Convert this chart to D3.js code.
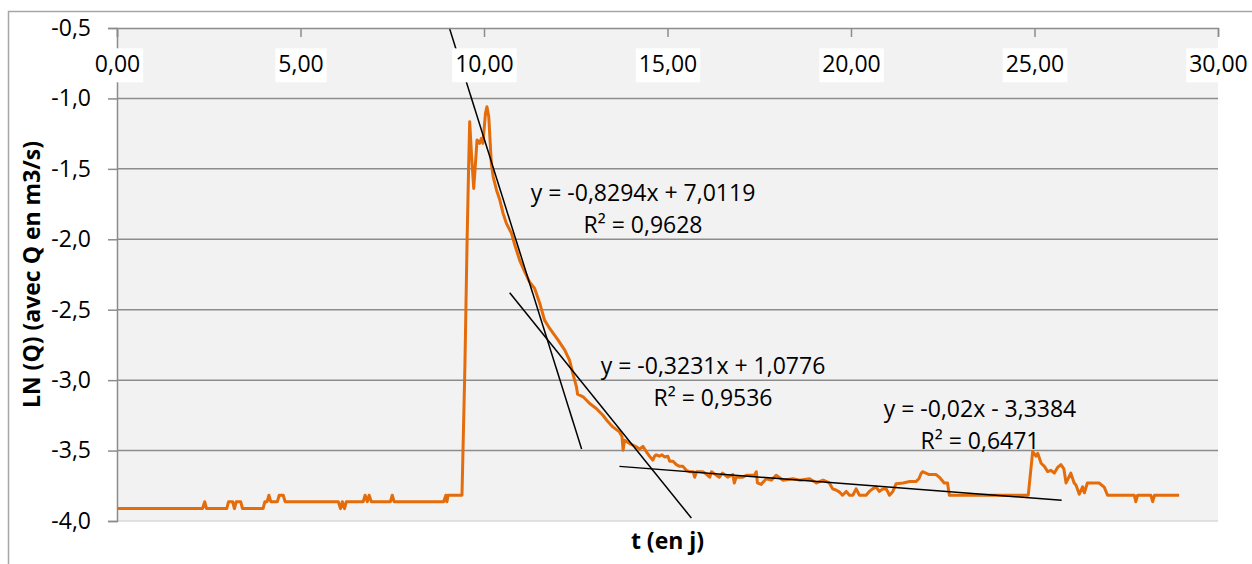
<!DOCTYPE html>
<html>
<head>
<meta charset="utf-8">
<script src="https://cdn.jsdelivr.net/npm/d3@7"></script>
<style>
  body { margin: 0; background: #fff; }
  text { font-family: "Open Sans", sans-serif; }
</style>
</head>
<body>
<div id="chart"></div>
<script>
// Data: t in days, LN(Q)
const tDays = [
  0, 2.33, 2.39, 2.44, 2.99, 3.04, 3.15, 3.20, 3.25, 3.37, 3.42, 3.98, 4.03, 4.09, 4.14, 4.19,
  4.37, 4.42, 4.53, 4.58, 6.03, 6.09, 6.14, 6.20, 6.25, 6.71, 6.76, 6.82, 6.87, 6.93, 7.45, 7.50,
  7.55, 8.90, 8.96, 8.99, 9.02, 9.40, 9.48, 9.54, 9.58, 9.61, 9.66, 9.72, 9.77, 9.81, 9.88, 9.93,
  9.97, 10.04, 10.08, 10.13, 10.20, 10.25, 10.34, 10.43, 10.52, 10.61, 10.75, 10.84, 10.97, 11.11,
  11.24, 11.38, 11.52, 11.65, 11.79, 12.02, 12.20, 12.33, 12.42, 12.52, 12.55, 12.70, 12.88, 13.06,
  13.24, 13.38, 13.51, 13.69, 13.76, 13.79, 13.83, 13.97, 14.15, 14.24, 14.33, 14.42, 14.51, 14.60,
  14.65, 14.69, 14.78, 14.85, 14.92, 15.01, 15.06, 15.15, 15.24, 15.33, 15.42, 15.51, 15.60, 15.70,
  15.74, 15.79, 15.96, 16.05, 16.15, 16.20, 16.41, 16.50, 16.64, 16.78, 16.82, 16.87, 17.05, 17.15,
  17.37, 17.42, 17.45, 17.55, 17.69, 17.83, 17.96, 18.15, 18.42, 18.60, 18.87, 19.06, 19.24, 19.41,
  19.50, 19.59, 19.68, 19.77, 19.87, 19.96, 20.05, 20.14, 20.23, 20.41, 20.50, 20.59, 20.68, 20.77,
  20.87, 20.96, 21.05, 21.14, 21.23, 21.42, 21.60, 21.77, 21.85, 21.91, 21.95, 22.04, 22.13, 22.32,
  22.41, 22.54, 22.63, 22.68, 24.83, 24.95, 25.04, 25.09, 25.18, 25.27, 25.36, 25.45, 25.54, 25.63,
  25.72, 25.80, 25.86, 25.99, 26.08, 26.13, 26.22, 26.31, 26.36, 26.44, 26.76, 26.90, 26.99, 27.72,
  27.76, 27.81, 28.17, 28.22, 28.27, 28.94
];
const lnQ = [
  -3.912, -3.912, -3.863, -3.912, -3.912, -3.863, -3.863, -3.912, -3.863, -3.863, -3.912, -3.912, -3.863, -3.863, -3.817, -3.863,
  -3.863, -3.817, -3.817, -3.863, -3.863, -3.912, -3.863, -3.912, -3.863, -3.863, -3.817, -3.863, -3.817, -3.863, -3.863, -3.817,
  -3.863, -3.863, -3.817, -3.863, -3.817, -3.817, -2.900, -2.000, -1.500, -1.165, -1.400, -1.639, -1.450, -1.295, -1.319, -1.283,
  -1.319, -1.106, -1.059, -1.130, -1.461, -1.556, -1.650, -1.720, -1.816, -1.887, -1.958, -2.041, -2.148, -2.231,
  -2.302, -2.349, -2.455, -2.574, -2.633, -2.716, -2.787, -2.858, -2.952, -3.048, -3.100, -3.118, -3.166, -3.201,
  -3.249, -3.296, -3.332, -3.367, -3.400, -3.497, -3.426, -3.450, -3.473, -3.490, -3.470, -3.507, -3.540, -3.568,
  -3.540, -3.530, -3.540, -3.530, -3.545, -3.540, -3.576, -3.576, -3.600, -3.612, -3.612, -3.640, -3.650, -3.650,
  -3.689, -3.650, -3.650, -3.665, -3.689, -3.650, -3.689, -3.660, -3.689, -3.670, -3.730, -3.689, -3.689, -3.675,
  -3.675, -3.650, -3.730, -3.740, -3.700, -3.710, -3.675, -3.710, -3.700, -3.710, -3.700, -3.730, -3.710, -3.730,
  -3.772, -3.780, -3.793, -3.817, -3.790, -3.817, -3.817, -3.772, -3.817, -3.817, -3.790, -3.772, -3.757, -3.790,
  -3.772, -3.772, -3.817, -3.790, -3.735, -3.730, -3.720, -3.720, -3.700, -3.663, -3.650, -3.660, -3.670, -3.670,
  -3.690, -3.730, -3.730, -3.817, -3.817, -3.507, -3.540, -3.520, -3.590, -3.612, -3.650, -3.640, -3.660, -3.620,
  -3.600, -3.630, -3.730, -3.660, -3.730, -3.745, -3.810, -3.757, -3.800, -3.730, -3.730, -3.760, -3.817, -3.817,
  -3.863, -3.817, -3.817, -3.863, -3.817, -3.817
];

// Linear trendlines (Excel): slope, intercept, t range, labels
const trendSlopes = [-0.8294, -0.3231, -0.02];
const trendIntercepts = [7.0119, 1.0776, -3.3384];
const trendStart = [9.057, 10.70, 13.69];
const trendEnd = [12.66, 15.65, 25.74];
const trendEquations = ["y = -0,8294x + 7,0119", "y = -0,3231x + 1,0776", "y = -0,02x - 3,3384"];
const trendR2 = ["R² = 0,9628", "R² = 0,9536", "R² = 0,6471"];

// Axis ticks
const xTicks = [0, 5, 10, 15, 20, 25, 30];
const xTickLabels = ["0,00", "5,00", "10,00", "15,00", "20,00", "25,00", "30,00"];
const yTicks = [-0.5, -1.0, -1.5, -2.0, -2.5, -3.0, -3.5, -4.0];
const yTickLabels = ["-0,5", "-1,0", "-1,5", "-2,0", "-2,5", "-3,0", "-3,5", "-4,0"];

// Layout
const W = 1252, H = 564;
const plot = { left: 117, right: 1218, top: 28, bottom: 521 };
const labelPos = [[643, 201], [713, 374], [980, 417]];
const orange = "#e46c0a";

const svg = d3.select("#chart").append("svg")
  .attr("width", W)
  .attr("height", H);

const x = d3.scaleLinear().domain([0, 30]).range([plot.left, plot.right]);
const y = d3.scaleLinear().domain([-4, -0.5]).range([plot.bottom, plot.top]);

// outer chart border (cropped in the picture)
svg.append("path")
  .attr("d", `M8.5,${H + 2}V11.5H${W + 2}`)
  .attr("fill", "none")
  .attr("stroke", "#a6a6a6")
  .attr("stroke-width", 1.5);

// plot background
svg.append("rect")
  .attr("x", plot.left).attr("y", plot.top)
  .attr("width", plot.right - plot.left).attr("height", plot.bottom - plot.top)
  .attr("fill", "#f2f2f2");

// horizontal gridlines
svg.append("g")
  .selectAll("line")
  .data(yTicks.slice(1))
  .join("line")
  .attr("x1", plot.left).attr("x2", plot.right)
  .attr("y1", d => y(d)).attr("y2", d => y(d))
  .attr("stroke", d => d === -4.0 ? "#d9d9d9" : "#8c8c8c")
  .attr("stroke-width", 1.5);

// y axis
const yAxis = d3.axisLeft(y)
  .tickValues(yTicks)
  .tickSize(9)
  .tickPadding(17)
  .tickFormat((d, i) => yTickLabels[i]);

const gy = svg.append("g")
  .attr("transform", `translate(${plot.left},0)`)
  .call(yAxis);
gy.select(".domain").attr("stroke", "#8c8c8c").attr("stroke-width", 1.5);
gy.selectAll(".tick line").attr("stroke", "#8c8c8c").attr("stroke-width", 1.5);
gy.selectAll("text")
  .style("font-family", "'Open Sans', sans-serif")
  .style("font-size", "23px")
  .attr("fill", "#000");

// data line
const line = d3.line()
  .x((d, i) => x(tDays[i]))
  .y(d => y(d));

svg.append("path")
  .datum(lnQ)
  .attr("d", line)
  .attr("fill", "none")
  .attr("stroke", orange)
  .attr("stroke-width", 3)
  .attr("stroke-linejoin", "round");

// trendlines
svg.append("g")
  .selectAll("line")
  .data(trendSlopes)
  .join("line")
  .attr("x1", (d, i) => x(trendStart[i]))
  .attr("y1", (d, i) => y(d * trendStart[i] + trendIntercepts[i]))
  .attr("x2", (d, i) => x(trendEnd[i]))
  .attr("y2", (d, i) => y(d * trendEnd[i] + trendIntercepts[i]))
  .attr("stroke", "#000")
  .attr("stroke-width", 1.5);

// x axis on top (crosses at -0.5), labels under the line
const xAxis = d3.axisBottom(x)
  .tickValues(xTicks)
  .tickSize(9)
  .tickPadding(19)
  .tickFormat((d, i) => xTickLabels[i]);

const gx = svg.append("g")
  .attr("transform", `translate(0,${plot.top})`)
  .call(xAxis);
gx.select(".domain").attr("stroke", "#8c8c8c").attr("stroke-width", 1.5);
gx.selectAll(".tick line").attr("stroke", "#8c8c8c").attr("stroke-width", 1.5);
gx.selectAll("text")
  .style("font-family", "'Open Sans', sans-serif")
  .style("font-size", "23px")
  .attr("fill", "#000");

// white boxes behind the x tick labels
gx.selectAll(".tick").each(function () {
  const t = d3.select(this).select("text");
  const bb = t.node().getBBox();
  d3.select(this).insert("rect", "text")
    .attr("x", bb.x - 3).attr("y", bb.y + 1)
    .attr("width", bb.width + 6).attr("height", bb.height + 2)
    .attr("fill", "#fff");
});

// trendline labels
const labels = svg.append("g")
  .attr("font-size", 23)
  .attr("text-anchor", "middle")
  .attr("fill", "#000");

labels.selectAll("text.eq")
  .data(trendEquations)
  .join("text")
  .attr("class", "eq")
  .attr("x", (d, i) => labelPos[i][0])
  .attr("y", (d, i) => labelPos[i][1])
  .text(d => d);

labels.selectAll("text.r2")
  .data(trendR2)
  .join("text")
  .attr("class", "r2")
  .attr("x", (d, i) => labelPos[i][0])
  .attr("y", (d, i) => labelPos[i][1] + 32)
  .text(d => d);

// axis titles
svg.append("text")
  .attr("x", (plot.left + plot.right) / 2)
  .attr("y", 549)
  .attr("text-anchor", "middle")
  .attr("font-size", 23)
  .attr("font-weight", "bold")
  .text("t (en j)");

svg.append("text")
  .attr("transform", `translate(40,${(plot.top + plot.bottom) / 2}) rotate(-90)`)
  .attr("text-anchor", "middle")
  .attr("font-size", 23)
  .attr("font-weight", "bold")
  .text("LN (Q) (avec Q en m3/s)");
</script>
</body>
</html>
